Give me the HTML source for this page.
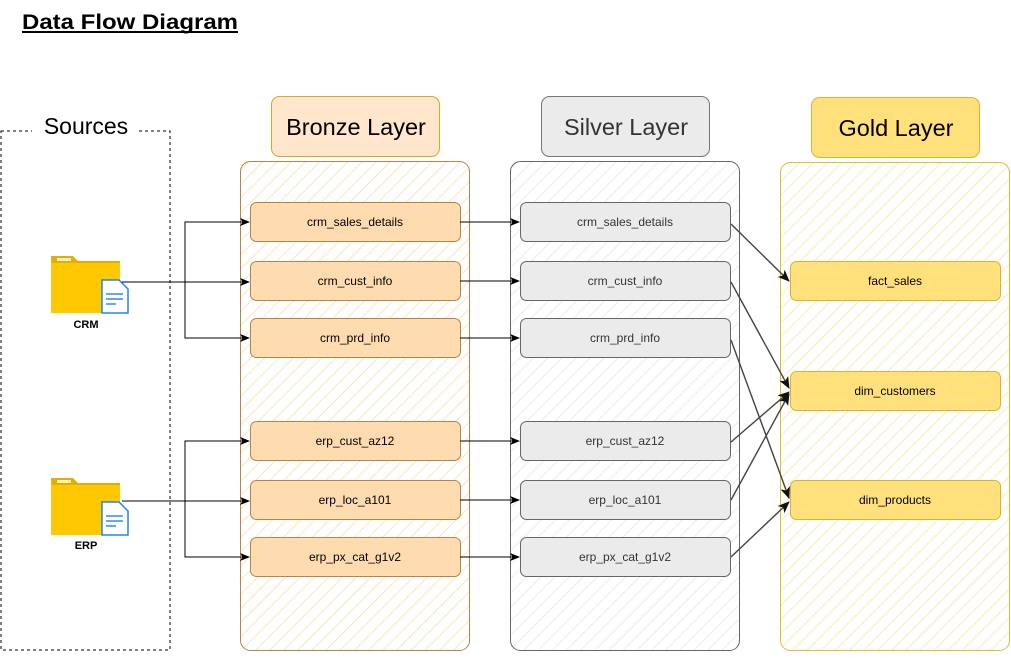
<!DOCTYPE html>
<html><head><style>
body{margin:0;background:#fff;width:1011px;height:653px;overflow:hidden;font-family:"Liberation Sans",sans-serif;}
</style></head><body>
<svg width="1011" height="653" xmlns="http://www.w3.org/2000/svg" font-family="Liberation Sans, sans-serif">
<defs>
<pattern id="hb" width="10" height="10" patternUnits="userSpaceOnUse" patternTransform="rotate(45)"><line x1="0" y1="0" x2="0" y2="10" stroke="#f9d79a" stroke-width="1.3"/></pattern>
<pattern id="hs" width="10" height="10" patternUnits="userSpaceOnUse" patternTransform="rotate(45)"><line x1="0" y1="0" x2="0" y2="10" stroke="#e2e2e2" stroke-width="1.3"/></pattern>
<pattern id="hg" width="10" height="10" patternUnits="userSpaceOnUse" patternTransform="rotate(45)"><line x1="0" y1="0" x2="0" y2="10" stroke="#fbe08a" stroke-width="1.3"/></pattern>
<marker id="a" markerWidth="10" markerHeight="10" refX="9" refY="5" orient="auto" markerUnits="userSpaceOnUse"><path d="M0,1 L10,5 L0,9 L2.5,5z" fill="#000"/></marker>
<marker id="g" markerWidth="12" markerHeight="12" refX="11" refY="6" orient="auto" markerUnits="userSpaceOnUse"><path d="M0,1 L12,6 L0,11 L3,6z" fill="#111"/></marker>
</defs>
<text x="22" y="29" font-size="21" font-weight="bold" textLength="216" lengthAdjust="spacingAndGlyphs">Data Flow Diagram</text>
<line x1="22" y1="32" x2="238" y2="32" stroke="#000" stroke-width="2"/>
<!-- sources -->
<rect x="1" y="131" width="169" height="519" fill="none" stroke="#000" stroke-dasharray="3,3"/>
<rect x="32" y="114" width="106" height="26" fill="#fff"/>
<text x="86" y="134" font-size="23" text-anchor="middle">Sources</text>
<!-- containers -->
<rect x="240.5" y="161.5" width="229" height="489" rx="10" fill="url(#hb)" stroke="#b5844a"/>
<rect x="510.5" y="161.5" width="229" height="489" rx="10" fill="url(#hs)" stroke="#666"/>
<rect x="780.5" y="162.5" width="229" height="488" rx="10" fill="url(#hg)" stroke="#e0b83a"/>
<!-- headers -->
<rect x="271.5" y="96.5" width="168" height="60" rx="8" fill="#ffe6cc" stroke="#d9a91c"/>
<text x="356" y="135" font-size="23.5" text-anchor="middle">Bronze Layer</text>
<rect x="541.5" y="96.5" width="168" height="60" rx="8" fill="#ebebeb" stroke="#777"/>
<text x="626" y="135" font-size="23.5" text-anchor="middle" fill="#333">Silver Layer</text>
<rect x="811.5" y="97.5" width="168" height="60" rx="8" fill="#ffe07a" stroke="#d9b23a"/>
<text x="896" y="136" font-size="23.5" text-anchor="middle">Gold Layer</text>
<!-- bronze boxes -->
<g font-size="12" text-anchor="middle">
<g fill="#ffdcb0" stroke="#b5844a">
<rect x="250.5" y="202.5" width="210" height="39" rx="6"/>
<rect x="250.5" y="261.5" width="210" height="39" rx="6"/>
<rect x="250.5" y="318.5" width="210" height="39" rx="6"/>
<rect x="250.5" y="421.5" width="210" height="39" rx="6"/>
<rect x="250.5" y="480.5" width="210" height="39" rx="6"/>
<rect x="250.5" y="537.5" width="210" height="39" rx="6"/>
</g>
<text x="355" y="226">crm_sales_details</text>
<text x="355" y="285">crm_cust_info</text>
<text x="355" y="342">crm_prd_info</text>
<text x="355" y="445">erp_cust_az12</text>
<text x="355" y="504">erp_loc_a101</text>
<text x="355" y="561">erp_px_cat_g1v2</text>
<g fill="#ebebeb" stroke="#666">
<rect x="520.5" y="202.5" width="210" height="39" rx="6"/>
<rect x="520.5" y="261.5" width="210" height="39" rx="6"/>
<rect x="520.5" y="318.5" width="210" height="39" rx="6"/>
<rect x="520.5" y="421.5" width="210" height="39" rx="6"/>
<rect x="520.5" y="480.5" width="210" height="39" rx="6"/>
<rect x="520.5" y="537.5" width="210" height="39" rx="6"/>
</g>
<g fill="#333">
<text x="625" y="226">crm_sales_details</text>
<text x="625" y="285">crm_cust_info</text>
<text x="625" y="342">crm_prd_info</text>
<text x="625" y="445">erp_cust_az12</text>
<text x="625" y="504">erp_loc_a101</text>
<text x="625" y="561">erp_px_cat_g1v2</text>
</g>
<g fill="#ffe07a" stroke="#d9b23a">
<rect x="790.5" y="261.5" width="210" height="39" rx="6"/>
<rect x="790.5" y="371.5" width="210" height="39" rx="6"/>
<rect x="790.5" y="480.5" width="210" height="39" rx="6"/>
</g>
<text x="895" y="285">fact_sales</text>
<text x="895" y="395">dim_customers</text>
<text x="895" y="504">dim_products</text>
</g>
<!-- source icons -->
<g>
<path d="M51,256 h22 l5,5 h42 v52 h-67 z" fill="#e6ac00"/>
<rect x="51" y="263" width="69" height="50" fill="#ffc800"/>
<rect x="57" y="258" width="14" height="3" fill="#fff3c0"/>
<path d="M102,280 h17 l9,9 v24 h-26 z" fill="#fff" stroke="#1e88e5" stroke-width="1.5"/>
<rect x="106" y="293" width="17" height="2" fill="#64a8ef"/><rect x="106" y="298" width="17" height="2" fill="#64a8ef"/><rect x="106" y="303" width="10" height="2" fill="#64a8ef"/>
<text x="86" y="328" font-size="11" font-weight="bold" text-anchor="middle">CRM</text>
</g>
<g transform="translate(0,222)">
<path d="M51,256 h22 l5,5 h42 v52 h-67 z" fill="#e6ac00"/>
<rect x="51" y="263" width="69" height="50" fill="#ffc800"/>
<rect x="57" y="258" width="14" height="3" fill="#fff3c0"/>
<path d="M102,280 h17 l9,9 v24 h-26 z" fill="#fff" stroke="#1e88e5" stroke-width="1.5"/>
<rect x="106" y="293" width="17" height="2" fill="#64a8ef"/><rect x="106" y="298" width="17" height="2" fill="#64a8ef"/><rect x="106" y="303" width="10" height="2" fill="#64a8ef"/>
<text x="86" y="327" font-size="11" font-weight="bold" text-anchor="middle">ERP</text>
</g>
<!-- source connectors -->
<g stroke="#000" fill="none" stroke-width="1">
<path d="M122,282 H249" marker-end="url(#a)"/>
<path d="M185,282 V222 H249" marker-end="url(#a)"/>
<path d="M185,282 V338 H249" marker-end="url(#a)"/>
<path d="M122,501 H249" marker-end="url(#a)"/>
<path d="M185,501 V441 H249" marker-end="url(#a)"/>
<path d="M185,501 V557 H249" marker-end="url(#a)"/>
<path d="M460,222 H519" marker-end="url(#a)"/>
<path d="M460,281 H519" marker-end="url(#a)"/>
<path d="M460,338 H519" marker-end="url(#a)"/>
<path d="M460,441 H519" marker-end="url(#a)"/>
<path d="M460,500 H519" marker-end="url(#a)"/>
<path d="M460,557 H519" marker-end="url(#a)"/>
</g>
<g stroke="#444" fill="none" stroke-width="1.4">
<path d="M731,224 L789,281" marker-end="url(#g)"/>
<path d="M731,282 L789,388" marker-end="url(#g)"/>
<path d="M731,340 L789,498" marker-end="url(#g)"/>
<path d="M731,442 L789,392" marker-end="url(#g)"/>
<path d="M731,500 L789,394" marker-end="url(#g)"/>
<path d="M731,557 L789,502" marker-end="url(#g)"/>
</g>
</svg>
</body></html>
